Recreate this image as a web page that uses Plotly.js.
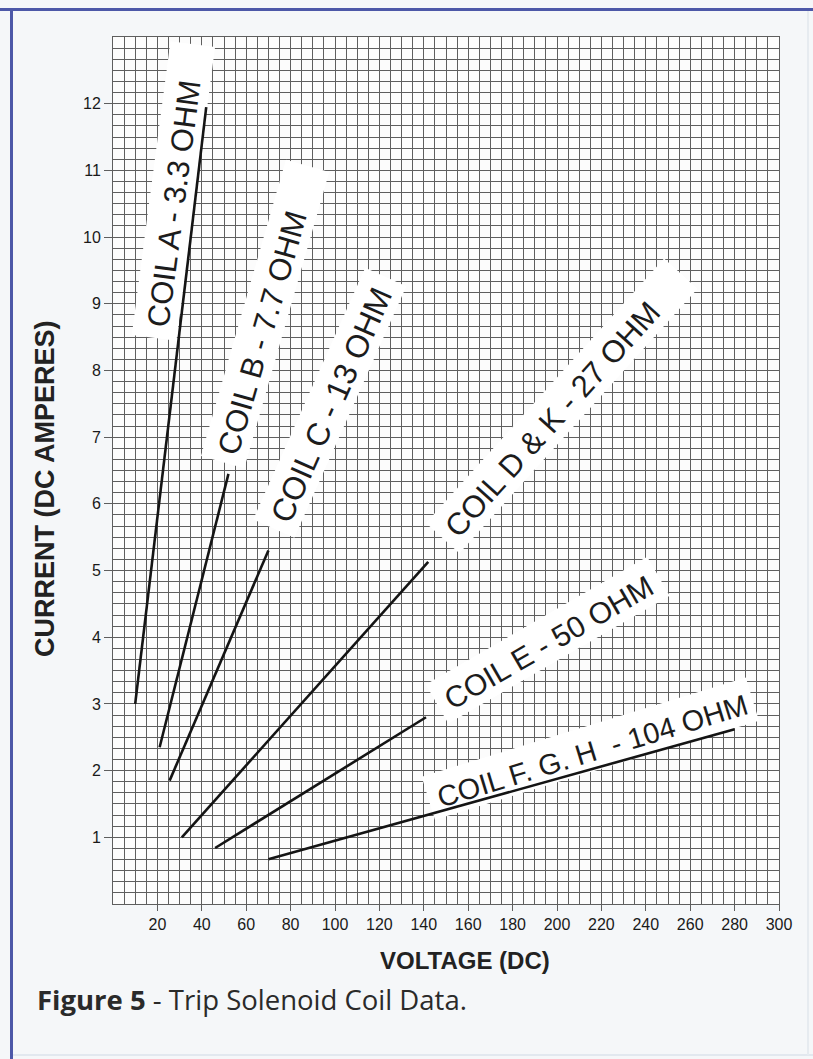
<!DOCTYPE html>
<html>
<head>
<meta charset="utf-8">
<script src="https://cdn.plot.ly/plotly-3.0.1.min.js"></script>
<style>
html,body{margin:0;padding:0;background:#f5f7f9;}
#chart{width:813px;height:1059px;}
</style>
</head>
<body>
<div id="chart"></div>
<script>
// ---- data ----
const coilLabels = ['COIL A - 3.3 OHM', 'COIL B - 7.7 OHM', 'COIL C - 13 OHM', 'COIL D & K - 27 OHM', 'COIL E - 50 OHM', 'COIL F. G. H  - 104 OHM'];
const voltStart = [10, 21, 25.5, 31, 46, 70];
const voltEnd   = [42, 52, 70, 142, 141, 280];
const ampStart  = [3.0, 2.35, 1.85, 1.0, 0.84, 0.67];
const ampEnd    = [11.95, 6.45, 5.3, 5.13, 2.8, 2.62];
const xTickVals = [20, 40, 60, 80, 100, 120, 140, 160, 180, 200, 220, 240, 260, 280, 300];
const yTickVals = [1, 2, 3, 4, 5, 6, 7, 8, 9, 10, 11, 12];
const xTitle = 'VOLTAGE (DC)';
const yTitle = 'CURRENT (DC AMPERES)';
const caption = '<b>Figure 5</b> - Trip Solenoid Coil Data.';

// ---- label placement (layout, not data) ----
const labelPos = [
  {x: 27.6, y: 10.5, angle: -82.5, size: 31, extra: 34},
  {x: 67.3, y: 8.57, angle: -74, size: 31, extra: 46},
  {x: 98.4, y: 7.48, angle: -66, size: 32, extra: 12},
  {x: 198, y: 7.26, angle: -48, size: 31, extra: 42},
  {x: 196.2, y: 3.92, angle: -30, size: 30, extra: 10},
  {x: 216, y: 2.30, angle: -17, size: 29, extra: 6}
];
const labelFont = 'Liberation Sans';

// ---- geometry ----
const W = 813, H = 1059;
const M = {l: 113, r: 34, t: 37, b: 155};
const XR = [0, 300], YR = [0, 13];
const pw = W - M.l - M.r, ph = H - M.t - M.b;
const px = v => (v - M.l) / pw;
const py = v => (H - M.b - v) / ph;
const toPixX = v => M.l + (v - XR[0]) / (XR[1] - XR[0]) * pw;
const toPixY = v => H - M.b - (v - YR[0]) / (YR[1] - YR[0]) * ph;
const toDataX = X => XR[0] + (X - M.l) / pw * (XR[1] - XR[0]);
const toDataY = Y => YR[0] + (H - M.b - Y) / ph * (YR[1] - YR[0]);

const ctx = document.createElement('canvas').getContext('2d');

const gridColor = '#5e5e5e';
const traces = coilLabels.map((name, i) => ({
  type: 'scatter', mode: 'lines', name: name,
  x: [voltStart[i], voltEnd[i]],
  y: [ampStart[i], ampEnd[i]],
  line: {color: '#141414', width: 2.6},
  hoverinfo: 'skip', showlegend: false
}));

const shapes = [];
const annotations = coilLabels.map((t, i) => {
  const p = labelPos[i];
  ctx.font = p.size + 'px "' + labelFont + '"';
  const th = -p.angle * Math.PI / 180;
  const ux = Math.cos(th), uy = -Math.sin(th);   // along text
  const vx = Math.sin(th), vy = Math.cos(th);    // perpendicular (towards text bottom)
  const cx = toPixX(p.x), cy = toPixY(p.y);
  const w = ctx.measureText(t).width;
  const s0 = -w / 2 - 9, s1 = w / 2 + p.extra;
  const d0 = -25, d1 = 20;
  const pts = [[s0, d0], [s1, d0], [s1, d1], [s0, d1]].map(([s, d]) =>
    [toDataX(cx + s * ux + d * vx), toDataY(cy + s * uy + d * vy)]);
  shapes.push({
    type: 'path', xref: 'x', yref: 'y', layer: 'between',
    path: 'M' + pts.map(q => q[0].toFixed(3) + ',' + q[1].toFixed(4)).join('L') + 'Z',
    fillcolor: '#ffffff', line: {width: 0}
  });
  return {
    x: p.x, y: p.y, xref: 'x', yref: 'y',
    text: t, showarrow: false, textangle: p.angle,
    font: {family: labelFont + ', Arial, sans-serif', size: p.size, color: '#1c1c1c'}
  };
});

annotations.push({
  xref: 'paper', yref: 'paper', x: px(465), y: py(961),
  text: '<b>' + xTitle + '</b>', showarrow: false,
  font: {family: 'Liberation Sans, Arial, sans-serif', size: 24, color: '#222'},
  xanchor: 'center', yanchor: 'middle'
});
annotations.push({
  xref: 'paper', yref: 'paper', x: px(45), y: py(489),
  text: '<b>' + yTitle + '</b>', showarrow: false, textangle: -90,
  font: {family: 'Liberation Sans, Arial, sans-serif', size: 27, color: '#222'},
  xanchor: 'center', yanchor: 'middle'
});
annotations.push({
  xref: 'paper', yref: 'paper', x: px(35), y: py(1000),
  text: caption, showarrow: false,
  font: {family: 'Open Sans, Lato, sans-serif', size: 27.5, color: '#2a2a2a'},
  xanchor: 'left', yanchor: 'middle'
});

shapes.push(
  {type: 'line', xref: 'paper', yref: 'paper', x0: px(0), x1: px(813), y0: py(9.5), y1: py(9.5), line: {color: '#4d58a8', width: 3}},
  {type: 'line', xref: 'paper', yref: 'paper', x0: px(11.5), x1: px(11.5), y0: py(8), y1: py(1059), line: {color: '#4d58a8', width: 3}},
  {type: 'line', xref: 'paper', yref: 'paper', x0: px(13), x1: px(813), y0: py(1055), y1: py(1055), line: {color: '#e2e8ef', width: 2}},
  {type: 'line', xref: 'paper', yref: 'paper', x0: px(808), x1: px(808), y0: py(11), y1: py(1055), line: {color: '#e6ebf0', width: 2}}
);

const layout = {
  width: W, height: H,
  margin: M,
  paper_bgcolor: '#f5f7f9',
  plot_bgcolor: '#fcfcfc',
  showlegend: false,
  xaxis: {
    range: XR, autorange: false,
    tickmode: 'array', tickvals: xTickVals,
    ticks: 'outside', ticklen: 6, tickcolor: gridColor, tickwidth: 1,
    showgrid: true, gridcolor: gridColor, gridwidth: 1,
    zeroline: false, showline: true, mirror: true, linecolor: gridColor, linewidth: 1,
    minor: {dtick: 5, tick0: 0, showgrid: true, gridcolor: gridColor, gridwidth: 1, ticks: ''},
    tickfont: {family: 'Liberation Sans, Arial, sans-serif', size: 16, color: '#1a1a1a'},
    fixedrange: true
  },
  yaxis: {
    range: YR, autorange: false,
    tickmode: 'array', tickvals: yTickVals,
    ticks: 'outside', ticklen: 8, tickcolor: gridColor, tickwidth: 1,
    showgrid: true, gridcolor: gridColor, gridwidth: 1,
    zeroline: false, showline: true, mirror: true, linecolor: gridColor, linewidth: 1,
    minor: {dtick: 1/6, tick0: 0, showgrid: true, gridcolor: gridColor, gridwidth: 1, ticks: ''},
    tickfont: {family: 'Liberation Sans, Arial, sans-serif', size: 16, color: '#1a1a1a'},
    fixedrange: true
  },
  annotations: annotations,
  shapes: shapes
};

Plotly.newPlot('chart', traces, layout, {displayModeBar: false, staticPlot: true});
</script>
</body>
</html>
